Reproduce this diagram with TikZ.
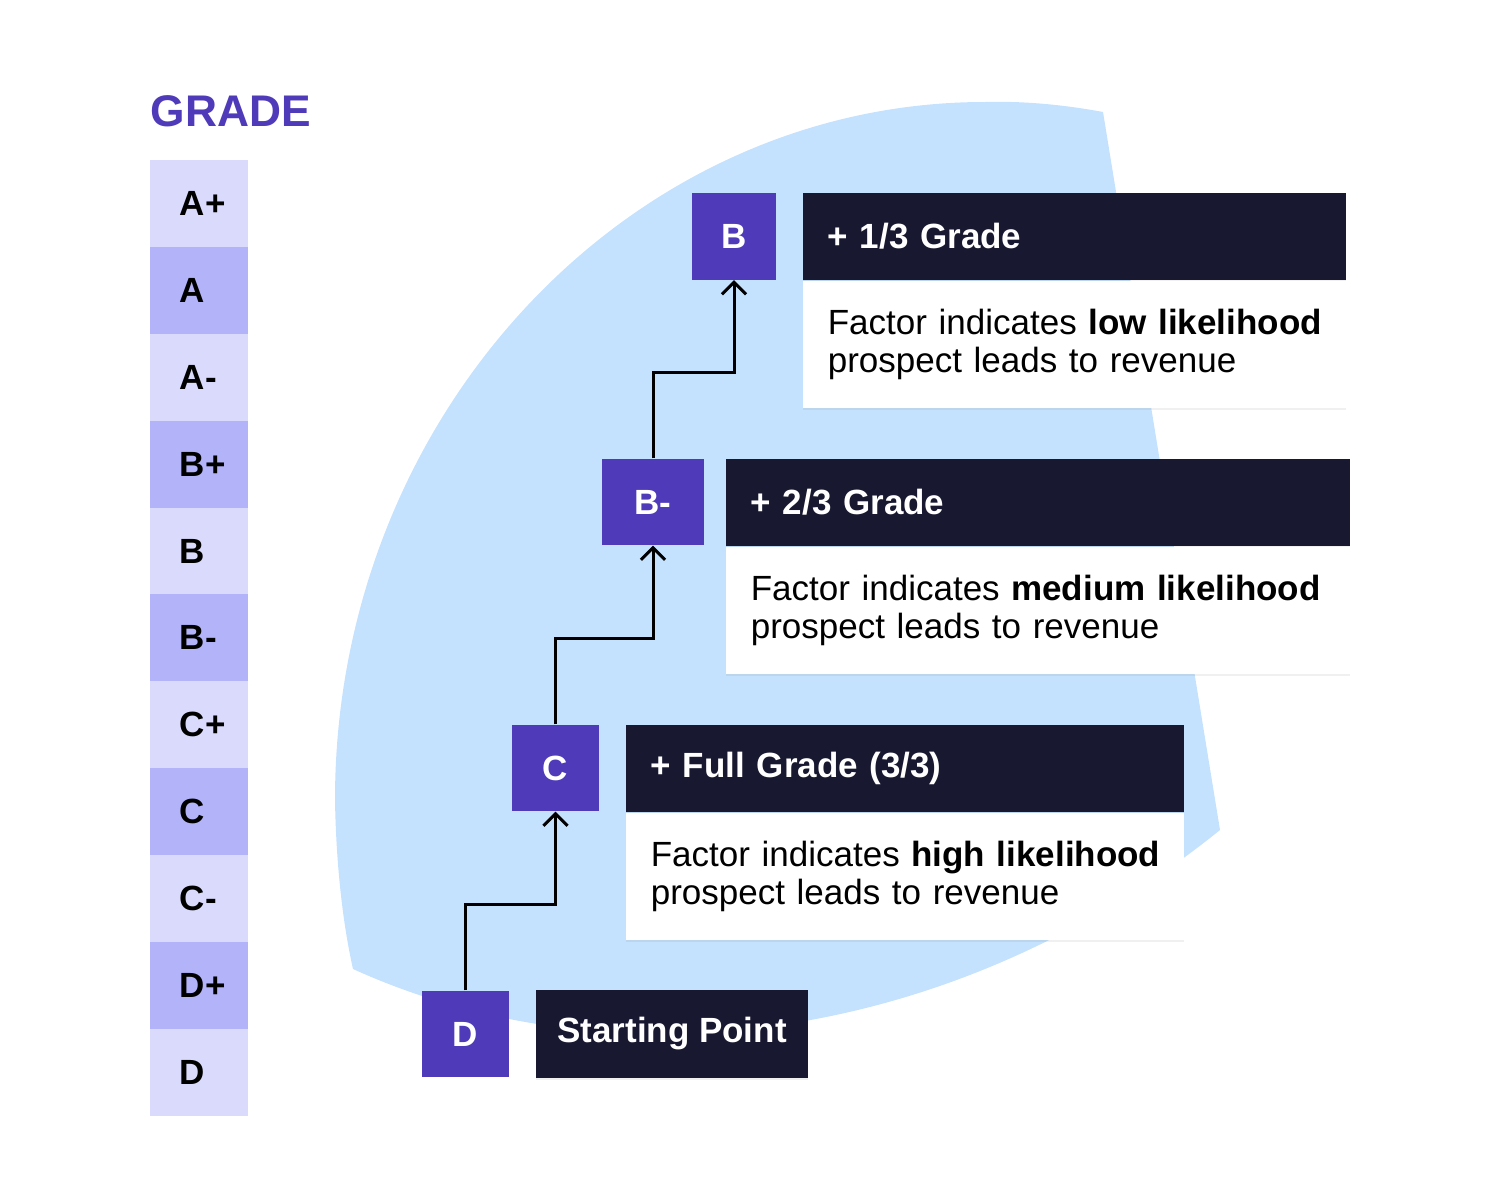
\documentclass[tikz,border=0pt]{standalone}
\usepackage{fontspec}
\setmainfont{Liberation Sans}
\usetikzlibrary{arrows.meta, calc, positioning, shadows}
\definecolor{gpurple}{HTML}{4F3BBA}
\definecolor{glight}{HTML}{DADAFC}
\definecolor{gdark}{HTML}{B3B3FA}
\definecolor{gnavy}{HTML}{181830}
\definecolor{blobblue}{HTML}{C4E1FD}
\newcommand{\txtsize}{\fontsize{9.95pt}{10.7pt}\selectfont}
\tikzset{
  % cella della colonna dei voti
  gradecell/.style={minimum width=0.98cm, minimum height=0.869cm, inner sep=0pt,
    text width=0.98cm, align=left, font=\bfseries\txtsize},
  % quadrato del voto raggiunto
  sq/.style={fill=gpurple, text=white, font=\bfseries\txtsize, inner sep=0pt,
    minimum height=0.86cm},
  % intestazione scura e riquadro di testo
  hdr/.style={fill=gnavy, text=white, font=\bfseries\txtsize, inner xsep=0.25cm,
    inner ysep=0pt, align=left, minimum height=0.87cm,
    drop shadow={shadow xshift=0pt, shadow yshift=-0.6pt, opacity=0.12}},
  descbox/.style={fill=white, font=\txtsize, inner xsep=0.25cm, inner ysep=0pt,
    align=left, minimum height=1.26cm,
    drop shadow={shadow xshift=0pt, shadow yshift=-0.6pt, opacity=0.12}},
  % freccia tra i gradini
  stepline/.style={line width=0.85pt, -{Straight Barb[length=1.2mm, width=2.4mm]}},
}

\begin{document}
\begin{tikzpicture}[x=0.01cm, y=-0.01cm]
  \useasboundingbox (0,0) rectangle (1500,1200);
  % sfondo
  \fill[blobblue] (1103,112) .. controls (1060,104) and (1020,101) .. (985,102)
    .. controls (628,102) and (335,416) .. (335,800)
    .. controls (336,860) and (342,920) .. (353,969)
    .. controls (620,1090) and (960,1040) .. (1220,830) -- cycle;

  % colonna dei voti
  \node[anchor=west, inner sep=0pt, text=gpurple, font=\bfseries\fontsize{12.6pt}{14pt}\selectfont]
    (title) at (150,111.5) {GRADE};
  \foreach \g/\c [count=\i] in {A+/glight, A/gdark, A-/glight, B+/gdark, B/glight, B-/gdark,
      C+/glight, C/gdark, C-/glight, D+/gdark, D/glight}
    \node[gradecell, fill=\c] (g\i) at (199, {160+86.9*(\i-0.5)}) {\hspace*{0.3cm}\g};

  % gradini
  \node[sq, minimum width=0.87cm] (D) at (465.5,1034) {D};
  \node[sq, minimum width=0.87cm] (C) at (555.5,768) {C};
  \node[sq, minimum width=1.02cm] (Bm) at (653,502) {B-};
  \node[sq, minimum width=0.84cm] (B) at (734,236.5) {B};

  \node[hdr, align=center, inner xsep=0pt, minimum width=2.72cm] (start) at (672,1034) {Starting Point};

  \node[hdr, text width=5.08cm] (h3) at (905,768.5) {+ Full Grade (3/3)};
  \node[descbox, text width=5.08cm, below=0pt of h3] (t3)
    {\mbox{Factor indicates \textbf{high likelihood}}\\\mbox{prospect leads to revenue}};
  \node[hdr, text width=5.74cm] (h2) at (1038,502.5) {+ 2/3 Grade};
  \node[descbox, text width=5.74cm, below=0pt of h2] (t2)
    {\mbox{Factor indicates \textbf{medium likelihood}}\\\mbox{prospect leads to revenue}};
  \node[hdr, text width=4.93cm] (h1) at (1074.5,236.5) {+ 1/3 Grade};
  \node[descbox, text width=4.93cm, below=0pt of h1] (t1)
    {\mbox{Factor indicates \textbf{low likelihood}}\\\mbox{prospect leads to revenue}};

  % collegamenti
  \draw[stepline] (D.north) |- ($(D.north)!.48!(C.south)$) -| (C.south);
  \draw[stepline] (C.north) |- ($(C.north)!.48!(Bm.south)$) -| (Bm.south);
  \draw[stepline] (Bm.north) |- ($(Bm.north)!.48!(B.south)$) -| (B.south);
\end{tikzpicture}
\end{document}
